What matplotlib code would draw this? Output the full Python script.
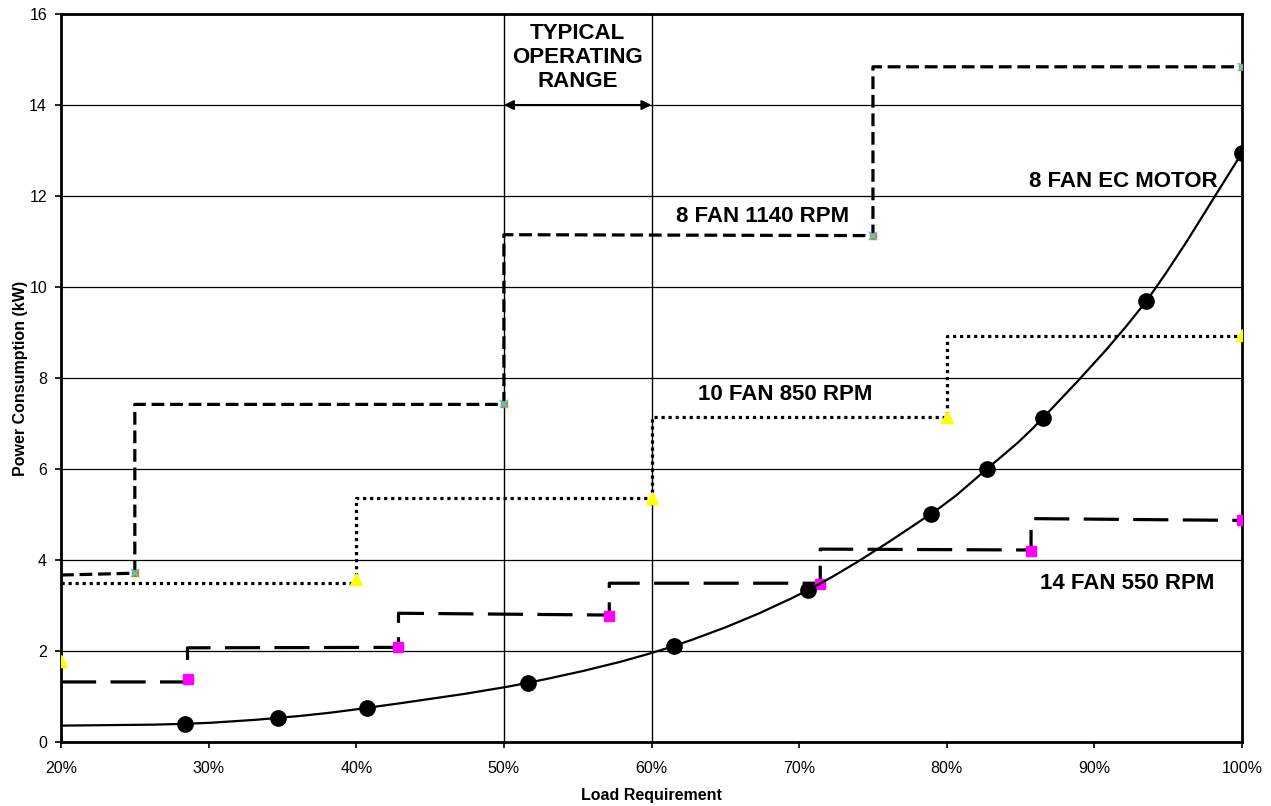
import matplotlib
matplotlib.use("Agg")
import matplotlib.pyplot as plt
import numpy as np
from matplotlib.path import Path
from matplotlib.patches import PathPatch

plt.rcParams["font.family"] = ["Liberation Sans", "DejaVu Sans"]

# ---- data (load % , kW) ----
ec_load = [20.0, 28.4, 34.7, 40.7, 51.6, 61.5, 70.6, 78.9, 82.7, 86.5, 93.5, 100.0]
ec_kw = [0.36, 0.40, 0.53, 0.75, 1.30, 2.11, 3.34, 5.01, 6.00, 7.12, 9.69, 12.95]
ec_marked = [False] + [True] * 11

fan1140_step_x = [20, 25, 25, 50, 50, 75, 75, 100]
fan1140_step_y = [3.67, 3.71, 7.42, 7.42, 11.15, 11.13, 14.84, 14.84]
fan1140_mark_x = [25, 50, 75, 100]
fan1140_mark_y = [3.71, 7.42, 11.13, 14.84]

fan850_step_x = [20, 40, 40, 60, 60, 80, 80, 100]
fan850_step_y = [3.50, 3.50, 5.36, 5.36, 7.15, 7.15, 8.93, 8.93]
fan850_mark_x = [20, 40, 60, 80, 100]
fan850_mark_y = [1.79, 3.58, 5.36, 7.15, 8.94]

fan550_step_x = [20, 28.57, 28.57, 42.86, 42.86, 57.14, 57.14, 71.43, 71.43, 85.71, 85.71, 100]
fan550_step_y = [1.32, 1.32, 2.07, 2.08, 2.83, 2.79, 3.49, 3.49, 4.24, 4.22, 4.91, 4.87]
fan550_mark_x = [28.57, 42.86, 57.14, 71.43, 85.71, 100]
fan550_mark_y = [1.39, 2.09, 2.78, 3.48, 4.20, 4.89]

x_ticks = [20, 30, 40, 50, 60, 70, 80, 90, 100]
y_ticks = [0, 2, 4, 6, 8, 10, 12, 14, 16]


def smooth_path(xs, ys):
    # Excel-like smoothed line: cubic Bezier segments through every point
    pts = np.column_stack([xs, ys])
    n = len(pts)
    verts = [pts[0]]
    codes = [Path.MOVETO]
    for i in range(n - 1):
        p0 = pts[i - 1] if i > 0 else pts[i]
        p1 = pts[i]
        p2 = pts[i + 1]
        p3 = pts[i + 2] if i + 2 < n else pts[i + 1]
        c1 = p1 + (p2 - p0) / 6.0
        c2 = p2 - (p3 - p1) / 6.0
        verts += [c1, c2, p2]
        codes += [Path.CURVE4] * 3
    return Path(verts, codes)


fig = plt.figure(figsize=(12.71, 8.06), dpi=100)
ax = fig.add_axes([0.048, 0.0794, 0.9292, 0.9032])

ax.set_xlim(20, 100)
ax.set_ylim(0, 16)
ax.set_xticks(x_ticks)
ax.set_xticklabels([f"{t}%" for t in x_ticks])
ax.set_yticks(y_ticks)
ax.tick_params(labelsize=11.5, direction="out", length=4, width=1.2)
ax.tick_params(axis="x", pad=10)
ax.tick_params(axis="y", pad=6)
ax.yaxis.grid(True, color="black", linewidth=0.9)
ax.set_axisbelow(True)
for s in ax.spines.values():
    s.set_linewidth(2.0)

ax.set_xlabel("Load Requirement", fontsize=11.5, fontweight="bold", labelpad=8)
ax.set_ylabel("Power Consumption (kW)", fontsize=11.5, fontweight="bold", labelpad=1)

# typical operating range
for xv in (50, 60):
    ax.axvline(xv, color="black", linewidth=1.0, zorder=1)
ax.annotate("", xy=(60, 14), xytext=(50, 14),
            arrowprops=dict(arrowstyle="<|-|>", color="black", lw=1.5,
                            mutation_scale=14, shrinkA=0, shrinkB=0))
ax.text(55, 15.05, "TYPICAL\nOPERATING\nRANGE", ha="center", va="center",
        fontsize=16, fontweight="bold", linespacing=1.2)

# 8 fan 1140 rpm
ax.plot(fan1140_step_x, fan1140_step_y, color="black", lw=2.3,
        dashes=(4, 1.8), dash_capstyle="butt", zorder=3)
ax.plot(fan1140_mark_x, fan1140_mark_y, ls="none", marker="s", ms=5,
        color="#f07020", mec="#f07020", zorder=4)
ax.plot(fan1140_mark_x, fan1140_mark_y, ls="none", marker="x", ms=6,
        mew=1.2, color="#30d8e0", zorder=5)

# 10 fan 850 rpm
ax.plot(fan850_step_x, fan850_step_y, color="black", lw=2.3,
        dashes=(1, 1.2), dash_capstyle="butt", zorder=3)
ax.plot(fan850_mark_x, fan850_mark_y, ls="none", marker="^", ms=8,
        color="#ffff00", mec="#ffff00", zorder=4)

# 14 fan 550 rpm
ax.plot(fan550_step_x, fan550_step_y, color="black", lw=2.3,
        dashes=(11, 4.5), dash_capstyle="butt", zorder=3)
ax.plot(fan550_mark_x, fan550_mark_y, ls="none", marker="s", ms=7.5,
        color="#ff00ff", mec="#ff00ff", zorder=4)

# 8 fan EC motor
ax.add_patch(PathPatch(smooth_path(ec_load, ec_kw), fill=False,
                       edgecolor="black", lw=1.6, zorder=5))
ax.plot([x for x, m in zip(ec_load, ec_marked) if m],
        [y for y, m in zip(ec_kw, ec_marked) if m],
        ls="none", marker="o", ms=11, color="black", zorder=6)

lab = dict(fontsize=16, fontweight="bold", ha="center", va="center")
ax.text(67.5, 11.56, "8 FAN 1140 RPM", **lab)
ax.text(69.05, 7.63, "10 FAN 850 RPM", **lab)
ax.text(91.95, 12.31, "8 FAN EC MOTOR", **lab)
ax.text(92.2, 3.49, "14 FAN 550 RPM", **lab)

fig.savefig("out.png", dpi=100)
